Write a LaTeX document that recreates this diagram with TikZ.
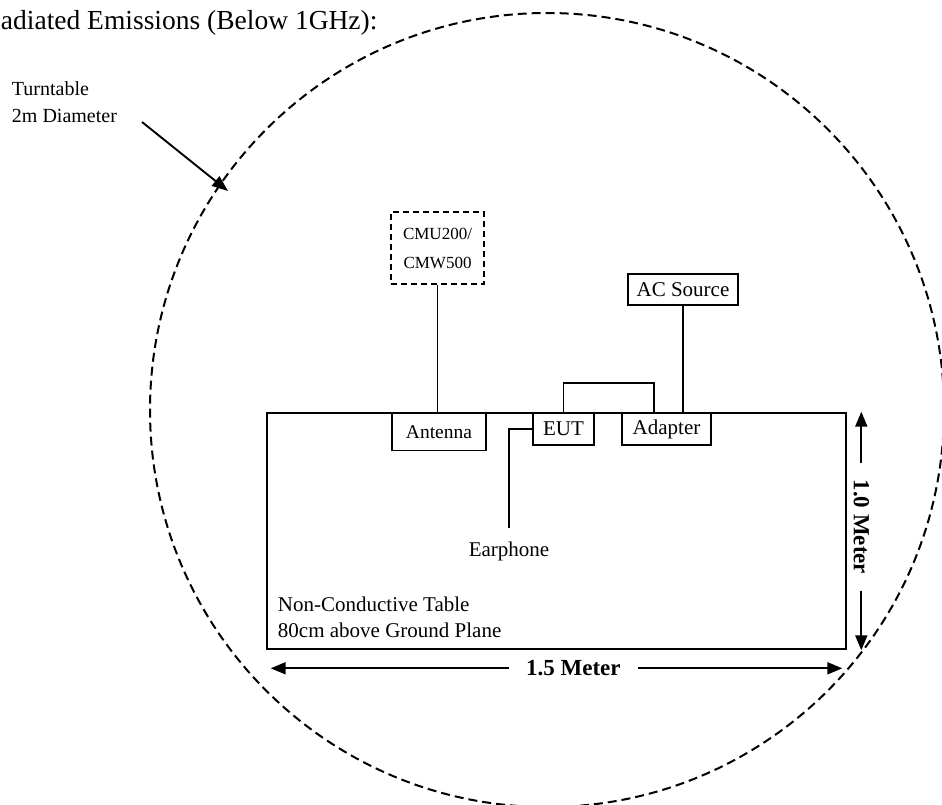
\documentclass[tikz,border=0pt]{standalone}
\usepackage{fontspec}
\setmainfont{Liberation Serif}
\usetikzlibrary{arrows.meta}

\begin{document}
\begin{tikzpicture}[x=1pt,y=-1pt,line width=1.9pt]
\tikzstyle{unit}=[draw,inner sep=0pt,font=\fontsize{21}{24}\selectfont]
\tikzstyle{txt}=[inner sep=0pt,font=\fontsize{21}{26}\selectfont]
\tikzstyle{dim}=[{Triangle[length=15pt,width=12pt]}-{Triangle[length=15pt,width=12pt]}]
\tikzstyle{meter}=[fill=white,inner sep=17pt,inner ysep=6pt,font=\bfseries\fontsize{23}{24}\selectfont]
\useasboundingbox (0,0) rectangle (942,805);

\draw[line width=2pt,dash pattern=on 9pt off 5pt] (547,410) circle [radius=397pt];

\node[txt,anchor=base west,font=\fontsize{27.5}{30}\selectfont] (title) at (0,30) {adiated Emissions (Below 1GHz):};
\node[txt,anchor=base west,align=left,font=\fontsize{20}{27}\selectfont] (turntable) at (11,123) {Turntable\\2m Diameter};
\coordinate (ttfrom) at (142,122);
\coordinate (ttto) at (228,191);
\draw[-{Triangle[length=16pt,width=12pt]}] (ttfrom) -- (ttto);

\node[draw,line width=2.6pt,minimum width=579pt,minimum height=236pt,inner sep=0pt] (table) at (556.5,531) {};
\node[unit,dash pattern=on 6pt off 4pt,minimum width=93pt,minimum height=72pt,align=center,font=\fontsize{17}{29}\selectfont] (cmu) at (437.5,248) {CMU200/\\CMW500};
\node[unit,minimum width=94pt,minimum height=37pt,font=\fontsize{19.5}{24}\selectfont] (antenna) at (439,432) {Antenna};
\node[unit,line width=2.4pt,minimum width=61pt,minimum height=32pt] (eut) at (563.5,429) {EUT};
\node[unit,line width=2.4pt,minimum width=89pt,minimum height=32pt] (adapter) at (666.5,429) {Adapter};
\node[unit,line width=2.2pt,minimum width=110pt,minimum height=31pt] (acsrc) at (683,289.5) {AC Source};
\node[txt,anchor=base] (earphone) at (509,556) {Earphone};
\node[txt,anchor=base west,align=left] (tabletext) at (277,637) {Non-Conductive Table\\80cm above Ground Plane};
\coordinate (adplug) at (654,413);

\draw (cmu.south) -- (cmu.south |- table.north);
\draw (acsrc.south) -- (acsrc.south |- table.north);
\draw (eut.north) -- ++(0,-29) -| (adplug);
\draw (eut.west) -| ([yshift=12pt]earphone.north);

\draw[dim] ([xshift=14pt]table.north east) -- node[meter,rotate=-90,pos=0.483] {1.0 Meter} ([xshift=14pt]table.south east);
\draw[dim,shorten >=5pt,shorten <=5pt] ([yshift=-18pt]table.south west) -- node[meter,pos=0.529] {1.5 Meter} ([yshift=-18pt]table.south east);
\end{tikzpicture}
\end{document}
